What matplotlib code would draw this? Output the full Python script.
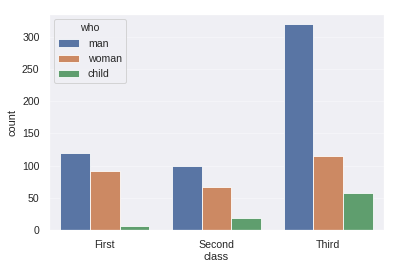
import matplotlib
matplotlib.use('Agg')
import matplotlib.pyplot as plt
import seaborn as sns
import pandas as pd

classes = ['First', 'Second', 'Third']
who_levels = ['man', 'woman', 'child']
man_counts = [119, 99, 319]
woman_counts = [91, 66, 114]
child_counts = [6, 19, 58]

sns.set_theme(style='darkgrid', rc={'grid.color': '#f4f4f8', 'axes.facecolor': '#efeff4'})
plt.rcParams['font.family'] = ['Liberation Sans', 'DejaVu Sans']
plt.rcParams['text.color'] = '#262626'

rows = []
for i, c in enumerate(classes):
    rows.append((c, 'man', man_counts[i]))
    rows.append((c, 'woman', woman_counts[i]))
    rows.append((c, 'child', child_counts[i]))
df = pd.DataFrame(rows, columns=['class', 'who', 'count'])

fig = plt.figure(figsize=(397/72, 271/72), dpi=72)
ax = fig.add_axes([49/397, 1 - 230/271, (384-49)/397, (230-14)/271])
sns.barplot(data=df, x='class', y='count', hue='who', hue_order=who_levels,
            order=classes, ax=ax, edgecolor='white', linewidth=0.8)
leg = ax.legend(title='who', loc='upper left', fontsize=10.5, title_fontsize=10.5)
ax.set_xlabel('class', fontsize=11, labelpad=2)
ax.set_ylabel('count', fontsize=11)
ax.tick_params(labelsize=10.5)
ax.set_ylim(0, 335)
fig.savefig('out.png', dpi=72)
